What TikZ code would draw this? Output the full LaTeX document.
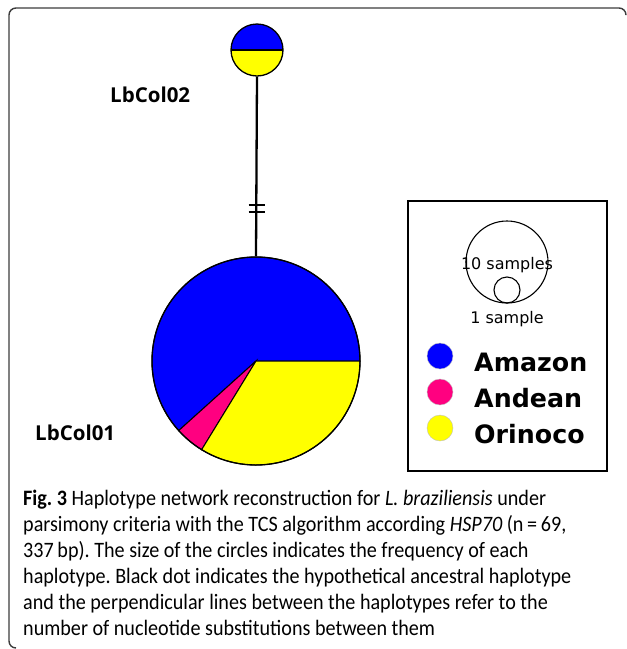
\documentclass[tikz,border=0pt]{standalone}
\usepackage{fontspec}
\newfontfamily\dvs{DejaVu Sans}
\newfontfamily\osans{Open Sans}
\newfontfamily\capfont[FakeStretch=0.915]{Carlito}
\definecolor{amazon}{RGB}{0,0,255}
\definecolor{andean}{RGB}{255,0,128}
\definecolor{orinoco}{RGB}{255,255,0}
\definecolor{framegray}{RGB}{60,60,60}
\frenchspacing
\tikzset{
  hap/.style={circle, draw=black, line width=1.3pt, inner sep=0pt},
  link/.style={line width=2.3pt, black},
  tick/.style={line width=2.4pt, black},
  hlabel/.style={font=\osans\bfseries\fontsize{20.5}{24}\selectfont, anchor=base west, inner sep=0pt},
  sizecirc/.style={circle, draw=black, line width=1.1pt, inner sep=0pt},
  sizetext/.style={font=\dvs\fontsize{16}{19}\selectfont, anchor=base, inner sep=0pt},
  legdot/.style={circle, draw=gray!50, line width=0.4pt, inner sep=0pt, minimum size=26pt},
  legtext/.style={font=\dvs\bfseries\fontsize{25.3}{30}\selectfont, anchor=base west, inner sep=0pt},
  capline/.style={font=\capfont\fontsize{22}{26}\selectfont, anchor=base west, inner sep=0pt},
}
\begin{document}
\begin{tikzpicture}[x=1pt,y=-1pt]
\useasboundingbox (0,0) rectangle (627,649);
% outer frame
\draw[framegray, line width=1.4pt, rounded corners=7pt] (626,14) -- (626,8) -- (9,8) -- (9,648) -- (16,648);
% haplotype LbCol02 (top)
\coordinate (c2) at (257,50);
\fill[amazon] (c2) -- ++(0:26pt) arc[start angle=0, end angle=180, radius=26pt] -- cycle;
\fill[orinoco] (c2) -- ++(180:26pt) arc[start angle=180, end angle=360, radius=26pt] -- cycle;
\draw[line width=1.3pt] (c2) ++(-26pt,0pt) -- ++(52pt,0pt);
\node[hap, minimum size=52pt] (h2) at (c2) {};
% haplotype LbCol01 (large)
\coordinate (c1) at (256,361);
\fill[amazon, draw=black, line width=1pt] (c1) -- ++(0:104pt) arc[start angle=0, end angle=222, radius=104pt] -- cycle;
\fill[andean, draw=black, line width=1pt] (c1) -- ++(222:104pt) arc[start angle=222, end angle=238.5, radius=104pt] -- cycle;
\fill[orinoco, draw=black, line width=1pt] (c1) -- ++(238.5:104pt) arc[start angle=238.5, end angle=360, radius=104pt] -- cycle;
\node[hap, minimum size=208pt] (h1) at (c1) {};
% connector with mutation ticks
\draw[link] (h2.south) -- (h1.north);
\coordinate (m1) at (257,205);
\coordinate (m2) at (257,211.7);
\draw[tick] (m1) ++(-8.3pt,0pt) -- ++(16.6pt,0pt);
\draw[tick] (m2) ++(-8.3pt,0pt) -- ++(16.6pt,0pt);
% labels
\node[hlabel] (l2) at (110,102.5) {LbCol02};
\node[hlabel] (l1) at (35,440.5) {LbCol01};
% legend
\draw[black, line width=1.2pt] (408,201) rectangle (607,471);
\node[sizecirc, minimum size=82pt] (s10) at (507,262) {};
\node[sizecirc, minimum size=26pt] (s1) at (507,290) {};
\node[sizetext] (t10) at (507,269) {10 samples};
\node[sizetext] (t1) at (507,323) {1 sample};
\node[legdot, fill=amazon] (d1) at (440,356) {};
\node[legdot, fill=andean] (d2) at (440,392) {};
\node[legdot, fill=orinoco] (d3) at (440,428) {};
\node[legtext] (a1) at (474,371) {Amazon};
\node[legtext] (a2) at (474,407) {Andean};
\node[legtext] (a3) at (474,443) {Orinoco};
% caption
\node[capline] (cap1) at (23,505) {\textbf{Fig. 3} Haplotype network reconstruction for \textit{L. braziliensis} under};
\node[capline] (cap2) at (23,531) {parsimony criteria with the TCS algorithm according \textit{HSP70} (n\,=\,69,};
\node[capline] (cap3) at (23,557) {337\,bp). The size of the circles indicates the frequency of each};
\node[capline] (cap4) at (23,583) {haplotype. Black dot indicates the hypothetical ancestral haplotype};
\node[capline] (cap5) at (23,609) {and the perpendicular lines between the haplotypes refer to the};
\node[capline] (cap6) at (23,635) {number of nucleotide substitutions between them};
\end{tikzpicture}
\end{document}
